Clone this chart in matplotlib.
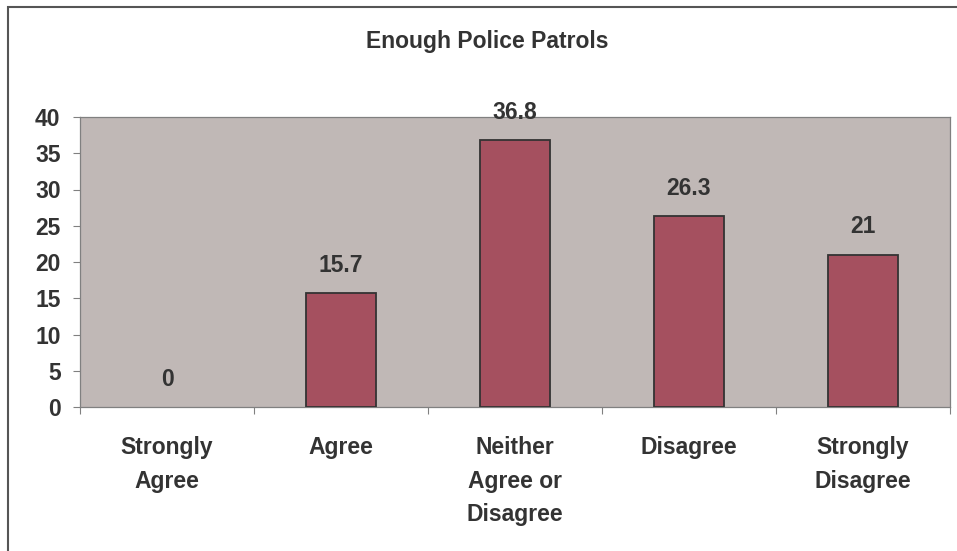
import numpy as np
import matplotlib.pyplot as plt
from matplotlib.patches import Rectangle

plt.rcParams['font.family'] = ['Liberation Sans', 'DejaVu Sans']
plt.rcParams['font.weight'] = 'bold'

# survey answers
categories = ['Strongly\nAgree', 'Agree', 'Neither\nAgree or\nDisagree', 'Disagree', 'Strongly\nDisagree']
values = [0, 15.7, 36.8, 26.3, 21]
value_labels = ['0', '15.7', '36.8', '26.3', '21']
y_ticks = [0, 5, 10, 15, 20, 25, 30, 35, 40]

bar_color = '#A5505F'
bg_color = '#C0B8B6'
text_color = '#333333'
fs = 16.5

fig = plt.figure(figsize=(9.57, 5.51), dpi=100)
W, H = 957, 551
ax = fig.add_axes([80 / W, 1 - 407 / H, 870 / W, 290 / H])
ax.set_facecolor(bg_color)

x = np.arange(len(categories))
bars = ax.bar(x, values, width=0.4, color=bar_color, edgecolor='#333333', linewidth=1.3, zorder=3)
for b, v in zip(bars, values):
    if v == 0:
        b.set_linewidth(0)

for xi, v, lab in zip(x, values, value_labels):
    ax.annotate(lab, (xi, v), xytext=(0, 20), textcoords='offset points',
                ha='center', va='center', fontsize=fs, fontweight='bold', color=text_color)

ax.set_xlim(-0.5, len(categories) - 0.5)
ax.set_ylim(0, 40)
ax.set_yticks(y_ticks)
ax.set_yticklabels([str(t) for t in y_ticks], fontsize=fs, fontweight='bold', color=text_color)
ax.tick_params(axis='y', length=5, width=0.8, color='#808080', pad=9)

# category labels sit between boundary ticks
ax.set_xticks(x)
ax.set_xticklabels(categories, fontsize=fs, fontweight='bold', color=text_color, linespacing=1.58, va='top')
ax.tick_params(axis='x', which='major', length=0, pad=21)
ax.set_xticks(np.arange(-0.5, len(categories)), minor=True)
ax.tick_params(axis='x', which='minor', length=5, width=0.8, color='#808080')

for s in ax.spines.values():
    s.set_color('#808080')
    s.set_linewidth(0.9)

fig.text(487 / W, 1 - 41 / H, 'Enough Police Patrols', ha='center', va='center',
         fontsize=16.5, fontweight='bold', color=text_color)

# chart frame, open on the right and bottom
fig.add_artist(Rectangle((8 / W, -0.1), 1.2, 1.1 - 7 / H, transform=fig.transFigure,
                         fill=False, edgecolor='#555555', linewidth=1.5))

fig.savefig('out.png', dpi=100)
